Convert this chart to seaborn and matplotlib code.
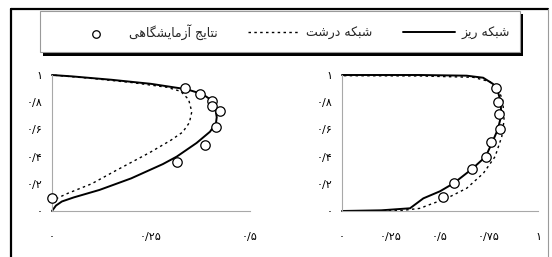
import matplotlib
matplotlib.use("Agg")
import matplotlib.pyplot as plt
from matplotlib.patches import Rectangle
from matplotlib.lines import Line2D
import seaborn as sns

# ---------------- data ----------------
# left panel (x: 0..0.5)
left_fine_x = [0, 0.01, 0.025, 0.055, 0.12, 0.2, 0.28, 0.315, 0.365, 0.399, 0.414, 0.416, 0.412, 0.40, 0.38, 0.34, 0.25, 0.15, 0.05, 0]
left_fine_y = [0, 0.04, 0.07, 0.10, 0.155, 0.24, 0.345, 0.40, 0.50, 0.583, 0.645, 0.69, 0.76, 0.82, 0.86, 0.895, 0.935, 0.965, 0.99, 1.0]
left_coarse_x = [0.01, 0.04, 0.10, 0.163, 0.247, 0.30, 0.33, 0.347, 0.353, 0.345, 0.325, 0.29, 0.20, 0.10, 0]
left_coarse_y = [0.09, 0.13, 0.20, 0.30, 0.43, 0.52, 0.58, 0.65, 0.73, 0.82, 0.88, 0.91, 0.945, 0.975, 1.0]
left_exp_x = [0.336, 0.374, 0.403, 0.403, 0.424, 0.414, 0.386, 0.316, 0.0]
left_exp_y = [0.907, 0.858, 0.811, 0.772, 0.735, 0.62, 0.485, 0.363, 0.093]

# right panel (x: 0..1)
right_fine_x = [0, 0.2, 0.347, 0.415, 0.50, 0.57, 0.665, 0.733, 0.765, 0.795, 0.812, 0.81, 0.795, 0.77, 0.72, 0.636, 0.4, 0]
right_fine_y = [0, 0.005, 0.02, 0.093, 0.145, 0.204, 0.311, 0.40, 0.50, 0.60, 0.70, 0.80, 0.88, 0.935, 0.98, 0.995, 1.0, 1.0]
right_coarse_x = [0, 0.3, 0.40, 0.432, 0.534, 0.636, 0.721, 0.781, 0.815, 0.827, 0.82, 0.798, 0.755, 0.67, 0.4, 0]
right_coarse_y = [0, 0.003, 0.02, 0.039, 0.093, 0.167, 0.277, 0.40, 0.546, 0.669, 0.816, 0.89, 0.951, 0.983, 0.993, 0.995]
right_exp_x = [0.786, 0.798, 0.801, 0.804, 0.759, 0.733, 0.665, 0.570, 0.514]
right_exp_y = [0.907, 0.801, 0.711, 0.603, 0.505, 0.40, 0.311, 0.204, 0.103]

y_ticks = [0, 0.2, 0.4, 0.6, 0.8, 1.0]
y_labels = ["۰", "۰/۲", "۰/۴", "۰/۶", "۰/۸", "۱"]
left_x_ticks = [0, 0.25, 0.5]
left_x_labels = ["۰", "۰/۲۵", "۰/۵"]
right_x_ticks = [0, 0.25, 0.5, 0.75, 1.0]
right_x_labels = ["۰", "۰/۲۵", "۰/۵", "۰/۷۵", "۱"]

label_fine = "شبکه ریز"
label_coarse = "شبکه درشت"
label_exp = "نتایج آزمایشگاهی"

# -------- minimal Persian shaping (presentation forms + visual order) --------
FORMS = {
    "ش": ("\uFEB5", "\uFEB6", "\uFEB7", "\uFEB8"),
    "ب": ("\uFE8F", "\uFE90", "\uFE91", "\uFE92"),
    "ک": ("\uFB8E", "\uFB8F", "\uFB90", "\uFB91"),
    "ه": ("\uFEE9", "\uFEEA", "\uFEEB", "\uFEEC"),
    "ی": ("\uFBFC", "\uFBFD", "\uFBFE", "\uFBFF"),
    "ت": ("\uFE95", "\uFE96", "\uFE97", "\uFE98"),
    "ن": ("\uFEE5", "\uFEE6", "\uFEE7", "\uFEE8"),
    "ج": ("\uFE9D", "\uFE9E", "\uFE9F", "\uFEA0"),
    "م": ("\uFEE1", "\uFEE2", "\uFEE3", "\uFEE4"),
    "گ": ("\uFB92", "\uFB93", "\uFB94", "\uFB95"),
    "ر": ("\uFEAD", "\uFEAE"),
    "ز": ("\uFEAF", "\uFEB0"),
    "د": ("\uFEA9", "\uFEAA"),
    "ا": ("\uFE8D", "\uFE8E"),
    "آ": ("\uFE81", "\uFE82"),
}


def shape(text):
    out = []
    n = len(text)
    for i, ch in enumerate(text):
        if ch not in FORMS:
            out.append(ch)
            continue
        f = FORMS[ch]
        prev = text[i - 1] if i > 0 else None
        nxt = text[i + 1] if i < n - 1 else None
        jp = prev in FORMS and len(FORMS[prev]) == 4
        jn = len(f) == 4 and nxt in FORMS
        if jp and jn:
            out.append(f[3])
        elif jp:
            out.append(f[1])
        elif jn:
            out.append(f[2])
        else:
            out.append(f[0])
    return "".join(reversed(out))


# ---------------- figure ----------------
sns.set_theme(style="white")
plt.rcParams["font.family"] = ["DejaVu Sans"]

W, H = 552, 257
fig = plt.figure(figsize=(W / 100, H / 100), dpi=100)
fig.patch.set_facecolor("white")


def fx(px):
    return px / W


def fy(py):
    return (H - py) / H


ax_l = fig.add_axes([fx(52), fy(211), fx(250) - fx(52), fy(75) - fy(211)])
ax_r = fig.add_axes([fx(342), fy(211), fx(538) - fx(342), fy(75) - fy(211)])

panels = [
    (ax_l, left_fine_x, left_fine_y, left_coarse_x, left_coarse_y, left_exp_x, left_exp_y,
     (0, 0.5), left_x_ticks, left_x_labels),
    (ax_r, right_fine_x, right_fine_y, right_coarse_x, right_coarse_y, right_exp_x, right_exp_y,
     (0, 1.0), right_x_ticks, right_x_labels),
]

for ax, fxs, fys, cxs, cys, exs, eys, xlim, xt, xl in panels:
    ax.set_facecolor("white")
    sns.lineplot(x=fxs, y=fys, sort=False, estimator=None, ax=ax, color="black",
                 linewidth=1.4, label=shape(label_fine), clip_on=False)
    sns.lineplot(x=cxs, y=cys, sort=False, estimator=None, ax=ax, color="black",
                 linewidth=1.0, linestyle=(0, (1.8, 2.4)), label=shape(label_coarse), clip_on=False)
    sns.scatterplot(x=exs, y=eys, ax=ax, marker="o", s=46, facecolor="white",
                    edgecolor="black", linewidth=0.9, label=shape(label_exp), clip_on=False, zorder=5)
    ax.set_xlim(*xlim)
    ax.set_ylim(0, 1)
    ax.set_xticks(xt)
    ax.set_xticklabels(xl)
    ax.set_yticks(y_ticks)
    ax.set_yticklabels(y_labels)
    for side in ["top", "right"]:
        ax.spines[side].set_visible(False)
    for side in ["left", "bottom"]:
        ax.spines[side].set_color("#a8a8a8")
        ax.spines[side].set_linewidth(0.8)
    ax.tick_params(axis="both", direction="in", length=3, width=0.6, color="#a8a8a8",
                   labelsize=8, labelcolor="black")
    ax.tick_params(axis="x", pad=15)
    ax.tick_params(axis="y", pad=7)
    ax.get_legend().remove()

# ---------------- legend box ----------------
fig.patches.append(Rectangle((fx(43), fy(56)), fx(523) - fx(43), fy(14) - fy(56),
                             transform=fig.transFigure, facecolor="black", edgecolor="none", zorder=1))
fig.patches.append(Rectangle((fx(40), fy(52)), fx(520) - fx(40), fy(11) - fy(52),
                             transform=fig.transFigure, facecolor="white", edgecolor="#9a9a9a",
                             linewidth=0.8, zorder=2))

h, l = ax_l.get_legend_handles_labels()
order = [2, 1, 0]
leg = fig.legend([h[i] for i in order], [l[i] for i in order], loc="center",
                 bbox_to_anchor=(fx(290), fy(32)), ncol=3, frameon=False,
                 fontsize=9, handlelength=4.2, handletextpad=0.5, columnspacing=2.4,
                 markerscale=0.8)
leg.set_zorder(10)

# ---------------- outer frame ----------------
fig.lines.append(Line2D([fx(11), fx(11)], [fy(9), fy(257)], transform=fig.transFigure,
                        color="black", linewidth=1.6))
fig.lines.append(Line2D([fx(11), fx(548)], [fy(9), fy(9)], transform=fig.transFigure,
                        color="black", linewidth=1.6))
fig.lines.append(Line2D([fx(548), fx(548)], [fy(9), fy(257)], transform=fig.transFigure,
                        color="#9a9a9a", linewidth=0.8))

fig.savefig("out.png", dpi=100, facecolor="white")
